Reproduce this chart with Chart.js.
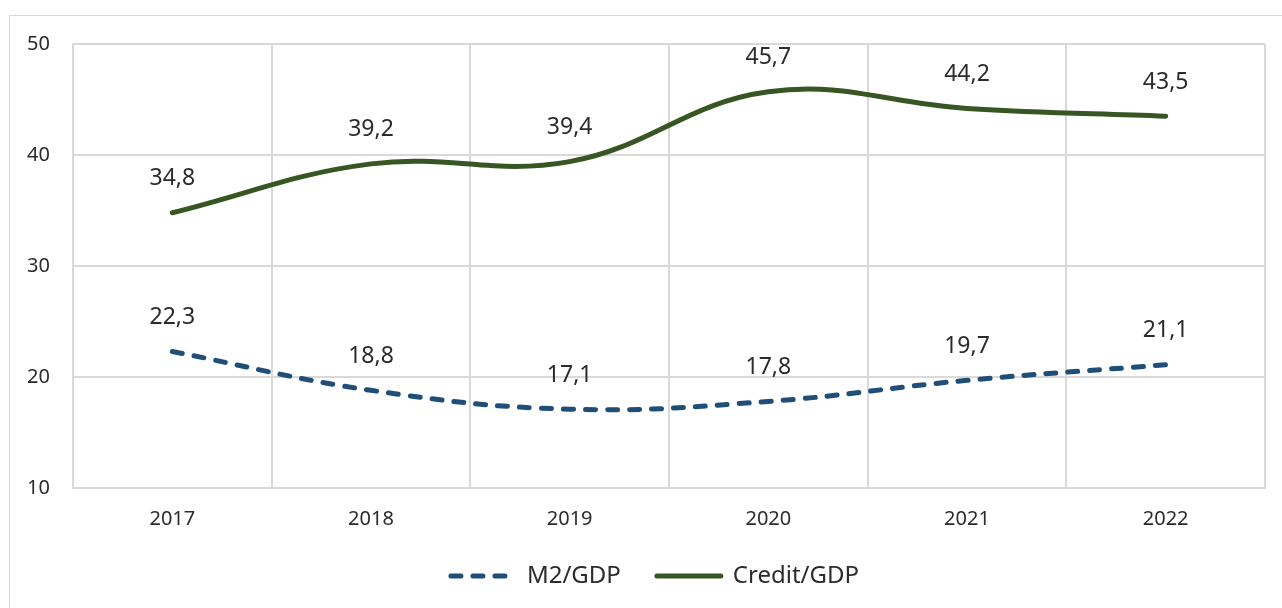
<!DOCTYPE html>
<html>
<head>
<meta charset="utf-8">
<script src="https://cdn.jsdelivr.net/npm/chart.js@4"></script>
<style>
  html, body { margin: 0; padding: 0; background: #fff; overflow: hidden; }
  #frame { position: absolute; left: 9px; top: 15px; width: 1300px; height: 620px; border: 1px solid #d9d9d9; }
  #wrap { position: absolute; left: 0; top: 0; width: 1282px; height: 608px; }
</style>
</head>
<body>
<div id="frame"></div>
<div id="wrap"><canvas id="chart" width="1282" height="608"></canvas></div>
<script>
const years = ['2017', '2018', '2019', '2020', '2021', '2022'];
const m2Gdp = [22.3, 18.8, 17.1, 17.8, 19.7, 21.1];
const creditGdp = [34.8, 39.2, 39.4, 45.7, 44.2, 43.5];
const yTicks = [10, 20, 30, 40, 50];

const fontFamily = '"Noto Sans", "Open Sans", sans-serif';
const gridColor = '#d9d9d9';
const textColor = '#2b2b2b';

// draws the value above each point, with a comma as decimal sign
const valueLabels = {
  id: 'valueLabels',
  afterDatasetsDraw(chart) {
    const ctx = chart.ctx;
    ctx.save();
    ctx.font = '23px ' + fontFamily;
    ctx.fillStyle = textColor;
    ctx.textAlign = 'center';
    ctx.textBaseline = 'middle';
    chart.data.datasets.forEach((ds, i) => {
      chart.getDatasetMeta(i).data.forEach((pt, j) => {
        ctx.fillText(ds.data[j].toFixed(1).replace('.', ','), pt.x, pt.y - 34);
      });
    });
    ctx.restore();
  }
};

// the legend sits centred under the plot area, not the whole canvas
const shiftLegend = {
  id: 'shiftLegend',
  afterLayout(chart) {
    chart.legend.left += 11;
    chart.legend.right += 11;
  }
};

const ctx = document.getElementById('chart').getContext('2d');
new Chart(ctx, {
  type: 'line',
  data: {
    labels: years,
    datasets: [
      {
        label: 'M2/GDP',
        data: m2Gdp,
        borderColor: '#1f4e79',
        backgroundColor: '#1f4e79',
        borderWidth: 5,
        borderDash: [10, 12],
        borderCapStyle: 'round',
        tension: 0.4,
        pointRadius: 0
      },
      {
        label: 'Credit/GDP',
        data: creditGdp,
        borderColor: '#375623',
        backgroundColor: '#375623',
        borderWidth: 5,
        borderCapStyle: 'round',
        tension: 0.4,
        pointRadius: 0
      }
    ]
  },
  options: {
    responsive: false,
    animation: false,
    layout: { padding: { left: 23, top: 44, right: 17, bottom: 10 } },
    scales: {
      x: {
        offset: true,
        grid: { offset: true, color: gridColor, lineWidth: 2, drawTicks: false },
        border: { color: gridColor, width: 2 },
        ticks: { padding: 19, color: textColor, font: { family: fontFamily, size: 20 } },
        afterFit: scale => { scale.height = 40; }
      },
      y: {
        min: 10,
        max: 50,
        afterBuildTicks: scale => { scale.ticks = yTicks.map(v => ({ value: v })); },
        grid: { color: gridColor, lineWidth: 2, drawTicks: false },
        border: { color: gridColor, width: 2 },
        ticks: { padding: 23, color: textColor, font: { family: fontFamily, size: 20 } },
        afterFit: scale => { scale.width = 50; }
      }
    },
    plugins: {
      legend: {
        position: 'bottom',
        labels: {
          usePointStyle: true,
          pointStyle: 'line',
          pointStyleWidth: 64,
          boxWidth: 64,
          boxHeight: 5,
          padding: 36,
          color: textColor,
          font: { family: fontFamily, size: 24 },
          generateLabels: chart => Chart.defaults.plugins.legend.labels.generateLabels(chart).map(item => {
            const ds = chart.data.datasets[item.datasetIndex];
            return Object.assign(item, {
              lineDash: ds.borderDash || [],
              lineCap: 'round',
              lineWidth: 5,
              strokeStyle: ds.borderColor
            });
          })
        }
      },
      tooltip: { enabled: false }
    }
  },
  plugins: [valueLabels, shiftLegend]
});
</script>
</body>
</html>
